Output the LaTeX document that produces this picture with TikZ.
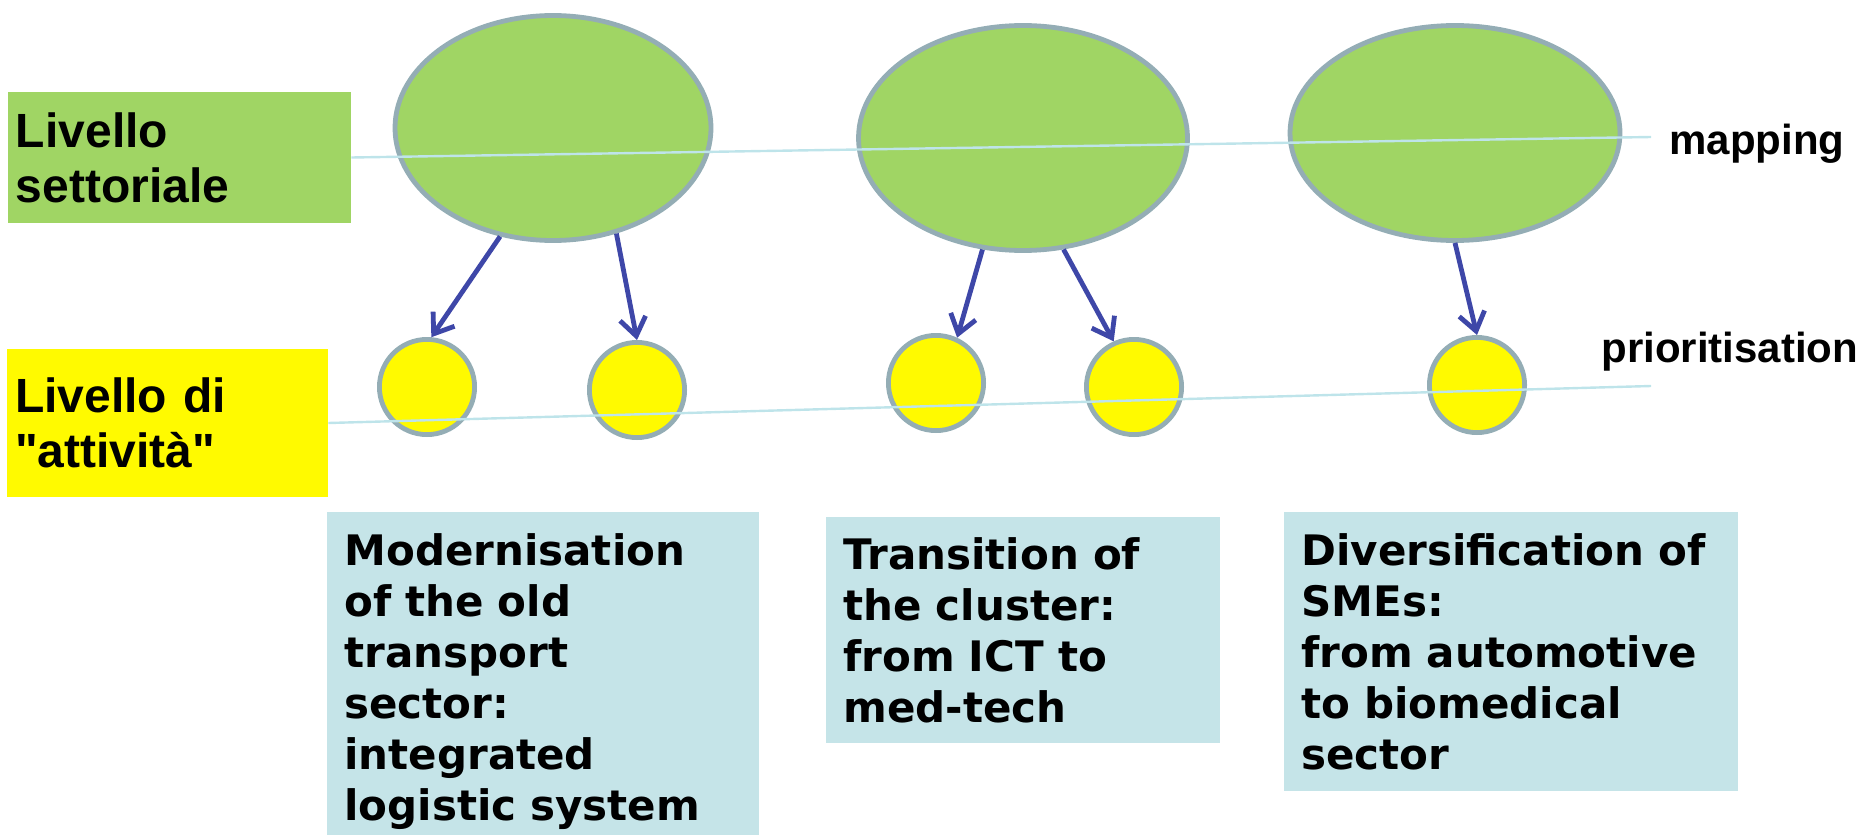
\documentclass[tikz,border=0pt]{standalone}
\usepackage{fontspec}
\setmainfont{Liberation Sans}[Ligatures=TeXOff]
\newfontfamily\boxfont{DejaVu Sans}
\usetikzlibrary{shapes.geometric,arrows.meta}
\definecolor{setgreen}{RGB}{160,213,100}
\definecolor{attyellow}{RGB}{255,250,0}
\definecolor{boxblue}{RGB}{197,228,232}
\definecolor{rimgray}{RGB}{148,173,181}
\definecolor{levelline}{RGB}{190,228,234}
\definecolor{arrowblue}{RGB}{62,71,168}
\begin{document}
\begin{tikzpicture}[x=0.5pt,y=-0.5pt,
  setnode/.style={ellipse, draw=rimgray, line width=2.4pt, fill=setgreen, inner sep=0pt},
  attnode/.style={circle, draw=rimgray, line width=2.4pt, fill=attyellow, inner sep=0pt, minimum size=47.6pt},
  lvllabel/.style={rectangle, inner xsep=4pt, inner ysep=0pt, align=left, font=\fontsize{24}{27.5}\selectfont\bfseries},
  objbox/.style={rectangle, fill=boxblue, anchor=north west, inner xsep=8.5pt, inner ysep=0pt, align=left, font=\boxfont\fontsize{21}{25.5}\selectfont\bfseries},
  sidetext/.style={anchor=base west, inner sep=0pt, font=\fontsize{21}{25}\selectfont\bfseries},
  lvlline/.style={draw=levelline, line width=1.2pt},
  arr/.style={draw=arrowblue, line width=2.4pt, -{Straight Barb[length=9pt,width=13pt]}}]
\useasboundingbox (0,0) rectangle (1867,835);
\node[lvllabel, fill=setgreen, text width=163.5pt, minimum height=65.5pt] (lvlset) at (179.5,157.5) {Livello\\settoriale};
\node[lvllabel, fill=attyellow, text width=152.5pt, minimum height=74pt] (lvlatt) at (167.5,423) {Livello di\\"attività"};
\node[setnode, minimum width=158pt, minimum height=112.5pt] (set1) at (553,128) {};
\node[setnode, minimum width=164.5pt, minimum height=112.5pt] (set2) at (1023,138) {};
\node[setnode, minimum width=165pt, minimum height=107.5pt] (set3) at (1455,133) {};
\node[attnode] (att1) at (427,387) {};
\node[attnode] (att2) at (637,390) {};
\node[attnode] (att3) at (936,383) {};
\node[attnode] (att4) at (1134,387) {};
\node[attnode] (att5) at (1477,385) {};
\node[objbox, text width=199pt, minimum height=161.5pt] (obj1) at (327,512) {\rule{0pt}{24pt}Modernisation\\of the old\\transport\\sector:\\integrated\\logistic system};
\node[objbox, text width=180pt, minimum height=113pt] (obj2) at (826,517) {Transition of\\the cluster:\\from ICT to\\med-tech};
\node[objbox, text width=210pt, minimum height=139.5pt] (obj3) at (1284,512) {Diversification of\\SMEs:\\from automotive\\to biomedical\\sector};
\node[sidetext] (map) at (1669,154) {mapping};
\node[sidetext] (prio) at (1601,362) {prioritisation};
\coordinate (mapend) at (1651,137);
\coordinate (prioend) at (1651,386);
\draw[lvlline] (lvlset.east) -- (mapend);
\draw[lvlline] (lvlatt.east) -- (prioend);
\draw[arr] (set1.244) -- (att1.85);
\draw[arr] (set1.301) -- (att2.90);
\draw[arr] (set2.250) -- (att3.65);
\draw[arr] (set2.290) -- (att4.114);
\draw[arr] (set3.270) -- (att5.90);
\end{tikzpicture}
\end{document}
